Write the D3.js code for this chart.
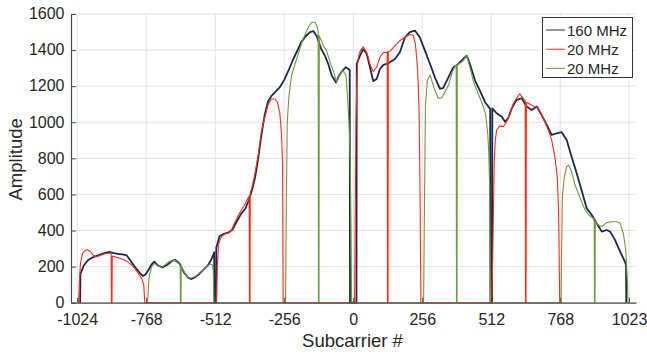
<!DOCTYPE html>
<html>
<head>
<meta charset="utf-8">
<script src="https://cdn.jsdelivr.net/npm/d3@7"></script>
<style>
  html, body { margin: 0; padding: 0; background: #fff; }
  svg { display: block; font-family: "Liberation Sans", Arial, Helvetica, sans-serif; }
</style>
</head>
<body>
<svg id="chart" width="647" height="354"></svg>
<script>
// ── Data: [subcarrier, amplitude] ──
const xTicks = [-1024, -768, -512, -256, 0, 256, 512, 768, 1023];
const yTicks = [0, 200, 400, 600, 800, 1000, 1200, 1400, 1600];
const seriesNames = ['160 MHz', '20 MHz', '20 MHz'];

const amp160 = [
  [-1013,0],[-1012,160],[-1000,205],[-984,235],[-968,250],[-952,259],[-936,268],[-920,276],[-904,282],
  [-888,275],[-872,270],[-856,268],[-840,262],[-828,237],[-808,195],[-792,165],[-780,148],[-772,155],
  [-760,180],[-748,212],[-738,227],[-724,205],[-706,196],[-688,212],[-672,232],[-660,237],[-644,216],
  [-628,168],[-612,138],[-600,131],[-588,140],[-572,158],[-556,182],[-540,205],[-528,235],[-520,262],
  [-516,280],[-515,0],[-509,0],[-508,305],[-496,368],[-480,382],[-464,388],[-448,405],[-432,450],
  [-416,492],[-400,522],[-388,565],[-376,622],[-364,695],[-352,805],[-340,935],[-328,1045],[-316,1115],
  [-304,1145],[-288,1170],[-272,1195],[-256,1235],[-240,1287],[-224,1345],[-208,1395],[-192,1445],
  [-176,1478],[-160,1500],[-148,1505],[-136,1480],[-120,1410],[-104,1365],[-92,1320],[-80,1260],
  [-64,1220],[-52,1260],[-40,1285],[-28,1305],[-18,1295],[-13,1290],[-12,0],[12,0],[13,1325],
  [25,1368],[37,1405],[50,1380],[62,1305],[74,1228],[87,1240],[99,1295],[112,1318],[130,1327],
  [155,1351],[173,1388],[192,1471],[210,1499],[229,1508],[247,1471],[266,1397],[285,1323],[303,1249],
  [322,1185],[334,1190],[353,1249],[371,1304],[390,1323],[408,1351],[421,1369],[433,1323],[452,1231],
  [470,1175],[489,1111],[508,1074],[509,0],[515,0],[516,1077],[532,1050],[551,1031],[563,1003],
  [575,1022],[588,1077],[606,1124],[625,1133],[643,1087],[662,1068],[681,1087],[699,1040],[718,985],
  [736,930],[755,939],[773,945],[792,902],[810,809],[829,717],[847,625],[866,523],[885,486],[903,440],
  [922,394],[940,403],[953,394],[971,348],[990,283],[1008,227],[1012,210],[1013,0]
];

const amp20red = [
  [-1019,0],[-1016,110],[-1012,218],[-1004,274],[-996,288],[-987,294],[-976,285],[-964,262],[-952,255],
  [-940,262],[-924,270],[-910,274],[-898,276],[-897,0],[-895,0],[-894,258],[-884,255],[-866,246],
  [-848,237],[-829,218],[-810,190],[-798,163],[-785,135],[-777,98],[-775,40],[-773,0],
  [-507,0],[-504,200],[-500,320],[-495,344],[-488,368],[-476,381],[-464,386],[-457,390],[-448,415],
  [-439,446],[-420,501],[-401,547],[-389,584],[-386,590],[-385,0],[-383,0],[-382,610],[-377,630],
  [-365,713],[-352,824],[-340,953],[-328,1027],[-315,1101],[-303,1129],[-291,1129],[-281,1111],
  [-272,1046],[-266,935],[-262,769],[-260,0],
  [5,0],[8,600],[10,1000],[13,1200],[16,1320],[22,1380],[28,1400],[37,1418],[50,1388],[62,1323],
  [74,1280],[87,1305],[99,1360],[111,1385],[124,1388],[126,1390],[127,0],[129,0],[130,1390],
  [136,1393],[155,1425],[173,1452],[192,1471],[210,1486],[223,1482],[231,1430],[239,1290],
  [244,1083],[248,600],[251,0],
  [514,0],[518,300],[523,773],[527,900],[532,957],[544,980],[557,975],[569,1003],[581,1050],
  [594,1105],[606,1133],[618,1157],[631,1133],[638,1120],[639,0],[641,0],[642,1110],[649,1105],
  [668,1090],[687,1077],[705,1022],[724,957],[736,902],[748,809],[757,698],[762,500],[764,250],[766,0]
];

const amp20green = [
  [-763,0],[-760,80],[-757,144],[-748,200],[-736,218],[-723,203],[-711,196],[-699,209],[-680,231],
  [-661,233],[-645,214],[-642,210],[-641,0],[-639,0],[-638,200],[-631,181],[-618,148],[-606,135],
  [-587,144],[-569,166],[-550,190],[-532,214],[-522,209],[-519,170],[-517,0],
  [-251,0],[-249,400],[-245,990],[-239,1138],[-229,1259],[-216,1323],[-204,1378],[-186,1462],
  [-167,1526],[-154,1554],[-142,1554],[-133,1526],[-130,1500],[-129,0],[-127,0],[-126,1480],
  [-121,1462],[-111,1425],[-99,1397],[-86,1332],[-72,1277],[-62,1222],[-49,1268],[-37,1286],
  [-27,1259],[-21,1138],[-15,972],[-11,769],[-8,400],[-6,0],
  [261,0],[264,500],[268,1101],[275,1231],[285,1262],[300,1190],[315,1133],[328,1135],[353,1203],
  [367,1277],[380,1314],[382,1316],[383,0],[385,0],[386,1320],[396,1327],[408,1341],[421,1369],
  [433,1304],[445,1231],[464,1157],[479,1101],[491,1046],[499,935],[503,824],[506,650],[508,300],[509,0],
  [771,0],[773,300],[776,588],[783,698],[792,754],[800,763],[810,726],[823,652],[835,606],[847,560],
  [860,514],[874,486],[890,468],[894,466],[895,0],[897,0],[898,450],[909,431],[922,422],[940,444],
  [959,449],[977,449],[990,440],[1002,385],[1011,292],[1017,126],[1019,0]
];

// ── Layout ──
const colors = ['#1b2a4c', '#ff2a14', '#6d9b3a'];
const widths = [1.8, 1.1, 1.1];
const plotLeft = 71, plotRight = 636, plotTop = 14, plotBottom = 302.7;
const textColor = '#262626', axisColor = '#4a4a4a', gridColor = '#e2e2e2';
const fmt = d => String(d);   // plain "-1024", no thousands separator

const svg = d3.select('#chart');
const x = d3.scaleLinear().domain([-1047, 1049]).range([plotLeft, plotRight]);
const y = d3.scaleLinear().domain([0, 1600]).range([plotBottom, plotTop]);

// Grid
svg.append('g').selectAll('line').data(yTicks).join('line')
  .attr('x1', plotLeft).attr('x2', plotRight)
  .attr('y1', d => y(d)).attr('y2', d => y(d))
  .attr('stroke', gridColor).attr('stroke-width', 1);
svg.append('g').selectAll('line').data(xTicks).join('line')
  .attr('x1', d => x(d)).attr('x2', d => x(d))
  .attr('y1', plotTop).attr('y2', plotBottom)
  .attr('stroke', gridColor).attr('stroke-width', 1);

// Series lines
const line = d3.line().x(d => x(d[0])).y(d => y(d[1]));
[amp160, amp20red, amp20green].forEach((s, i) => {
  svg.append('path')
    .datum(s)
    .attr('d', line)
    .attr('fill', 'none')
    .attr('stroke', colors[i])
    .attr('stroke-width', widths[i])
    .attr('stroke-linejoin', 'round');
});

// Axes (inward ticks, no box)
const xAxis = d3.axisBottom(x).tickValues(xTicks).tickFormat(fmt)
  .tickSizeInner(-5).tickSizeOuter(0).tickPadding(10.5);
const yAxis = d3.axisLeft(y).tickValues(yTicks).tickFormat(fmt)
  .tickSizeInner(-5).tickSizeOuter(0).tickPadding(6.5);

const gx = svg.append('g').attr('transform', `translate(0,${plotBottom})`).call(xAxis);
const gy = svg.append('g').attr('transform', `translate(${plotLeft},0)`).call(yAxis);
[gx, gy].forEach(g => {
  g.select('.domain').attr('stroke', axisColor).attr('stroke-width', 1.2);
  g.selectAll('.tick line').attr('stroke', axisColor);
  g.selectAll('.tick text')
    .attr('fill', textColor)
    .attr('font-size', '16px')
    .attr('font-family', '"Liberation Sans", Arial, sans-serif');
});
gy.selectAll('.tick text').attr('dy', '0.3em');

// Axis titles
svg.append('text')
  .attr('x', (plotLeft + plotRight) / 2 - 1).attr('y', 347)
  .attr('text-anchor', 'middle')
  .attr('fill', textColor).attr('font-size', '18.5px')
  .text('Subcarrier #');

svg.append('text')
  .attr('transform', `translate(21.7,${(plotTop + plotBottom) / 2 + 1}) rotate(-90)`)
  .attr('text-anchor', 'middle')
  .attr('fill', textColor).attr('font-size', '18.5px')
  .text('Amplitude');

// Legend
const legend = svg.append('g');
legend.append('rect')
  .attr('x', 542.5).attr('y', 17.5).attr('width', 90).attr('height', 60)
  .attr('fill', '#fff').attr('stroke', '#333').attr('stroke-width', 1);
seriesNames.forEach((name, i) => {
  const ly = 30 + i * 19.2;
  legend.append('line')
    .attr('x1', 546).attr('x2', 565).attr('y1', ly).attr('y2', ly)
    .attr('stroke', colors[i]).attr('stroke-width', 1);
  legend.append('text')
    .attr('x', 567).attr('y', ly + 5.6)
    .attr('fill', textColor).attr('font-size', '15px')
    .text(name);
});
</script>
</body>
</html>
